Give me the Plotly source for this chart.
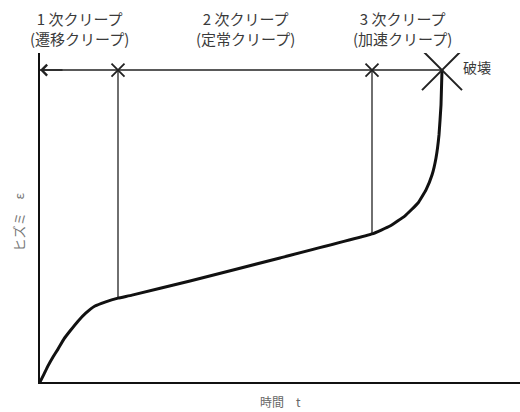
import numpy as np
import plotly.graph_objects as go

# creep curve (time / strain in arbitrary units)
t_curve = [0, 1, 2, 3.25, 4.5, 6, 7.5, 9.5, 11.5, 13.75, 16.25, 19.5, 23.0,
           37.5, 60, 83, 87.5, 91.25, 94.5, 96.5, 98, 99, 99.75, 100.25, 100.5]
strain_curve = [0, 2.4, 4.9, 7.6, 10.0, 13.1, 15.5, 18.5, 21.0, 23.1, 24.3, 25.5, 26.4,
                30.7, 37.7, 45.0, 47.4, 50.5, 54.4, 58.4, 62.9, 68.1, 75.1, 84.2, 94.8]

stage_bounds = [19.5, 83.0]
fail_t = 100.5
fail_strain = 94.8

stage_labels = [
    "1 次クリープ<br>(遷移クリープ)",
    "2 次クリープ<br>(定常クリープ)",
    "3 次クリープ<br>(加速クリープ)",
]
fail_label = "破壊"
x_title = "時間　t"
y_title = "ヒズミ　ε"

FONT = "Noto Sans CJK JP"
TEXT_COLOR = "#3a3a3a"
X_MAX = 120

fig = go.Figure()

# range arrow line across the top
fig.add_trace(go.Scatter(
    x=[0, fail_t], y=[fail_strain, fail_strain], mode="lines",
    line={"color": "#222222", "width": 1.5}, hoverinfo="skip",
))

# stage boundary verticals down to the curve
for tb in stage_bounds:
    yb = float(np.interp(tb, t_curve, strain_curve))
    fig.add_trace(go.Scatter(
        x=[tb, tb], y=[yb, fail_strain], mode="lines",
        line={"color": "#222222", "width": 1.3}, hoverinfo="skip",
    ))

# the creep curve itself
fig.add_trace(go.Scatter(
    x=t_curve, y=strain_curve, mode="lines",
    line={"color": "#111111", "width": 3, "shape": "spline", "smoothing": 0.3},
    hoverinfo="skip",
))

# small crosses at stage boundaries
fig.add_trace(go.Scatter(
    x=stage_bounds, y=[fail_strain] * len(stage_bounds), mode="markers",
    marker={"symbol": "x-thin", "size": 13, "line": {"color": "#222222", "width": 1.8}},
    hoverinfo="skip",
))

# big cross at rupture
fig.add_trace(go.Scatter(
    x=[fail_t], y=[fail_strain], mode="markers",
    marker={"symbol": "x-thin", "size": 40, "line": {"color": "#222222", "width": 2}},
    hoverinfo="skip",
))

# left arrowhead
fig.add_annotation(
    x=0, y=fail_strain, ax=6, ay=fail_strain, xref="x", yref="y", axref="x", ayref="y",
    showarrow=True, arrowhead=4, arrowsize=1.4, arrowwidth=1.5, arrowcolor="#222222", text="",
)

# stage labels sit above the plot area, so place them in paper coords
edges = [0] + stage_bounds + [fail_t]
for i, label in enumerate(stage_labels):
    fig.add_annotation(
        x=(edges[i] + edges[i + 1]) / 2 / X_MAX, y=1.074, xref="paper", yref="paper",
        text=label, showarrow=False, xanchor="center", yanchor="middle",
        xshift=-5 if i == 2 else 0,
        font={"family": FONT, "size": 15, "color": TEXT_COLOR},
    )

fig.add_annotation(
    x=fail_t, y=fail_strain, xref="x", yref="y", text=fail_label, showarrow=False,
    xanchor="left", yanchor="middle", xshift=19, yshift=3,
    font={"family": FONT, "size": 14, "color": TEXT_COLOR},
)

fig.add_annotation(
    x=0.5, y=-0.06, xref="paper", yref="paper", text=x_title, showarrow=False,
    xanchor="center", yanchor="middle",
    font={"family": FONT, "size": 12, "color": "#666666"},
)
fig.add_annotation(
    x=-0.045, y=0.486, xref="paper", yref="paper", text=y_title, showarrow=False,
    textangle=-90, xanchor="center", yanchor="middle",
    font={"family": FONT, "size": 13, "color": "#777777"},
)

fig.update_layout(
    width=520, height=412,
    margin={"l": 40, "r": 0, "t": 53, "b": 30},
    showlegend=False,
    plot_bgcolor="white", paper_bgcolor="white",
    xaxis={"range": [0, X_MAX], "showgrid": False, "zeroline": False, "showticklabels": False,
           "ticks": "", "showline": True, "linecolor": "#111111", "linewidth": 2},
    yaxis={"range": [0, 100], "showgrid": False, "zeroline": False, "showticklabels": False,
           "ticks": "", "showline": True, "linecolor": "#111111", "linewidth": 2},
)

fig.write_html("out.html", config={"displayModeBar": False},
               post_script="document.body.style.margin='0';")
